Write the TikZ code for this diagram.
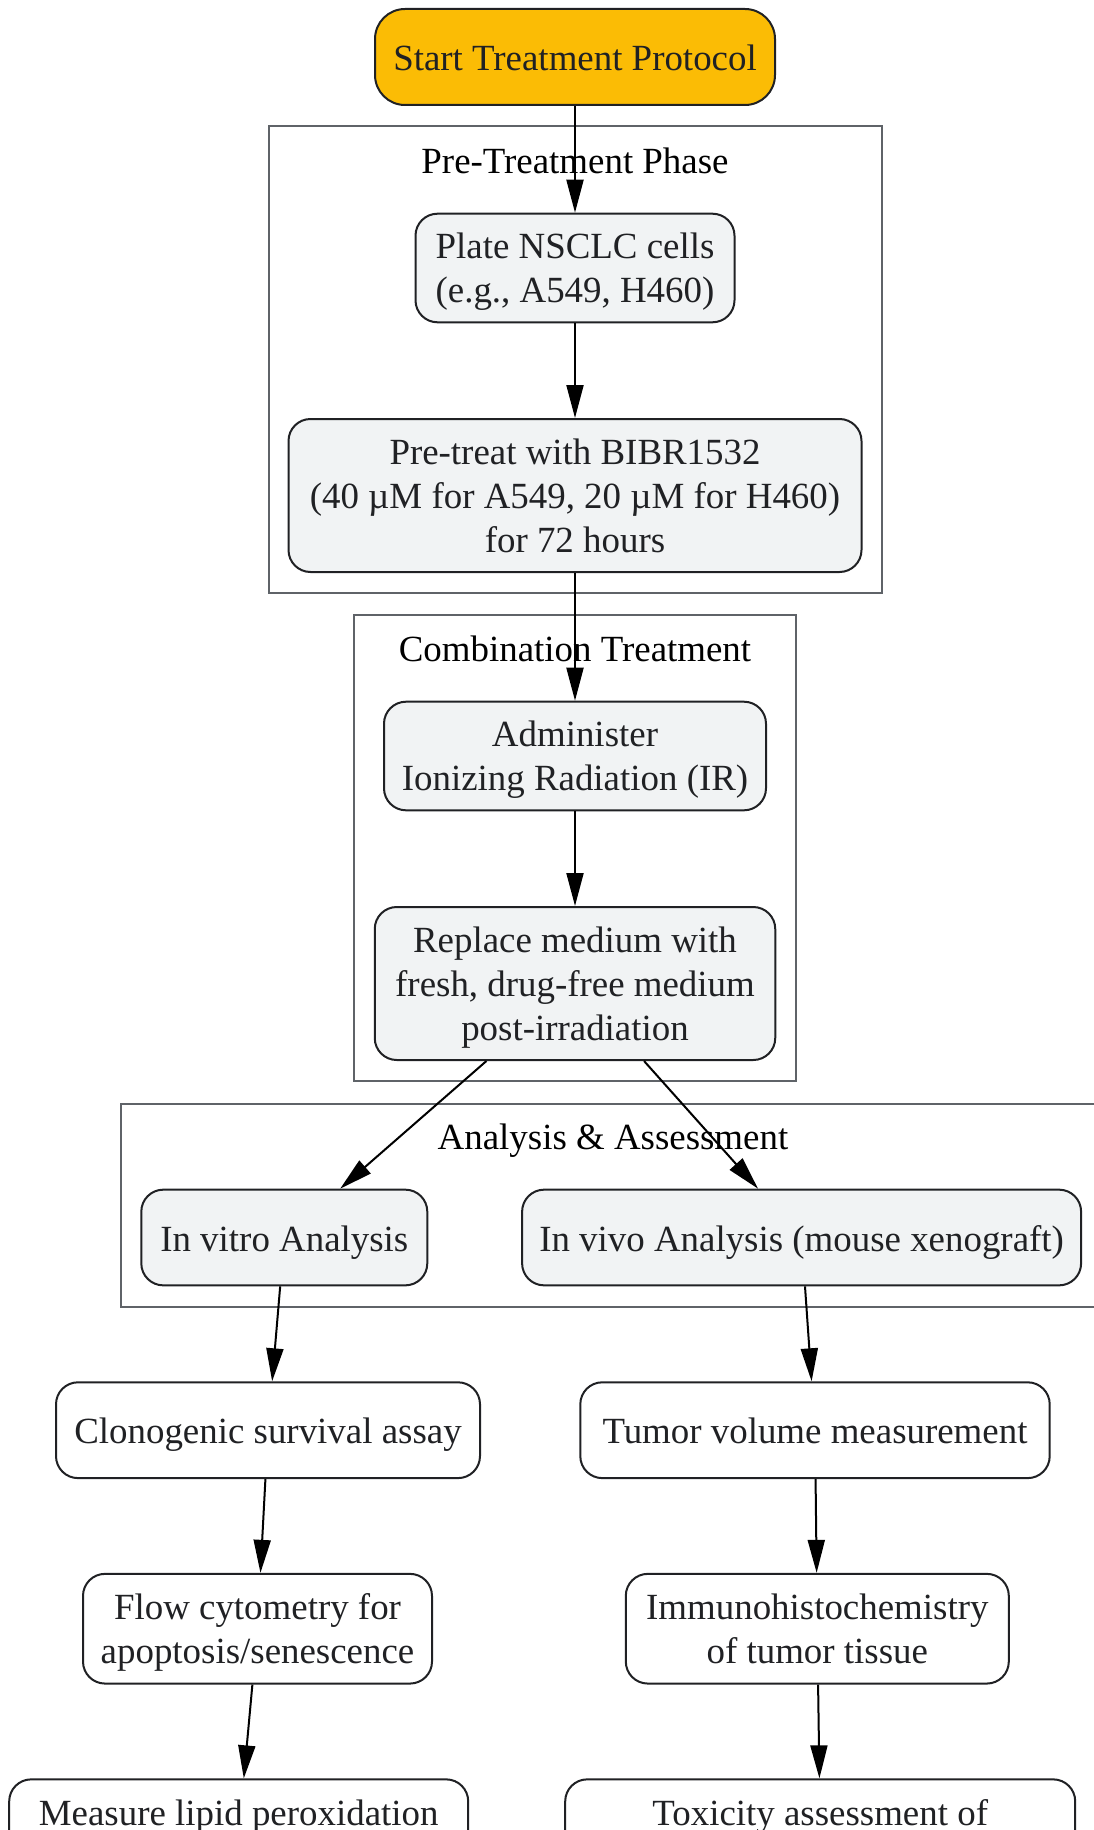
\documentclass[tikz,border=0pt]{standalone}
\usepackage{fontspec}
\setmainfont{Liberation Serif}
\usetikzlibrary{positioning, arrows.meta}

\definecolor{startfill}{HTML}{FBBC05}
\definecolor{stepfill}{HTML}{F1F3F4}
\definecolor{clustergray}{HTML}{5F6368}
\definecolor{inkdark}{HTML}{202124}

\tikzset{
  fontstrut/.style={execute at begin node={\rule{0pt}{35.4pt}},
    execute at end node={\rule[-8pt]{0pt}{0pt}}},
  multiline/.style={text depth=-1.4pt},
  stepbox/.style={draw=inkdark, line width=2pt, rounded corners=22pt, fill=stepfill,
    text=inkdark, align=center, inner sep=0pt, fontstrut},
  startbox/.style={stepbox, fill=startfill, rounded corners=30pt},
  plainbox/.style={stepbox, fill=white},
  cluster/.style={draw=clustergray, line width=2pt, inner sep=0pt},
  clusterlabel/.style={text=black, inner sep=0pt, fontstrut},
  arrowline/.style={line width=2pt, -{Triangle[length=33pt, width=17pt]}}
}

\begin{document}
\begin{tikzpicture}[x=1pt, y=-1pt, on grid, font=\fontsize{36.9pt}{43.8pt}\selectfont]
  \useasboundingbox (0,0) rectangle (1094,1830);

  \node[cluster, minimum width=613pt, minimum height=467pt] (pre) at (575,359.5) {};
  \node[cluster, minimum width=442.5pt, minimum height=466pt] (combo) at (575,848.3) {};
  \node[cluster, minimum width=983.2pt, minimum height=203pt] (analysis) at (613,1205) {};
  \node[clusterlabel] (prelabel) at (575,160) {Pre-Treatment Phase};
  \node[clusterlabel] (combolabel) at (575,648) {Combination Treatment};
  \node[clusterlabel] (analysislabel) at (613,1136) {Analysis \& Assessment};

  \node[startbox, minimum width=400pt, minimum height=96pt] (start) at (575,57) {Start Treatment Protocol};
  \node[stepbox, multiline, minimum width=319pt, minimum height=108.6pt] (plate) [below=211pt of start] {Plate NSCLC cells\\(e.g., A549, H460)};
  \node[stepbox, multiline, minimum width=573pt, minimum height=153pt] (pretreat) [below=227.5pt of plate] {Pre-treat with BIBR1532\\(40 µM for A549, 20 µM for H460)\\for 72 hours};
  \node[stepbox, multiline, minimum width=382pt, minimum height=108.6pt] (administer) [below=260.5pt of pretreat] {Administer\\Ionizing Radiation (IR)};
  \node[stepbox, multiline, minimum width=400.5pt, minimum height=153pt] (replace) [below=227.5pt of administer] {Replace medium with\\fresh, drug-free medium\\post-irradiation};
  \node[stepbox, minimum width=286pt, minimum height=95.7pt] (invitro) [below left=254pt and 290.7pt of replace] {In vitro Analysis};
  \node[stepbox, minimum width=559pt, minimum height=95.7pt] (invivo) [below right=254pt and 226.6pt of replace] {In vivo Analysis (mouse xenograft)};
  \node[plainbox, minimum width=424pt, minimum height=95.8pt] (clono) [below left=192.7pt and 16.3pt of invitro] {Clonogenic survival assay};
  \node[plainbox, minimum width=469.4pt, minimum height=95.8pt] (tumor) [below right=192.7pt and 13.4pt of invivo] {Tumor volume measurement};
  \node[plainbox, multiline, minimum width=349pt, minimum height=109.7pt] (flowcyt) [below left=198.5pt and 10.5pt of clono] {Flow cytometry for\\apoptosis/senescence};
  \node[plainbox, multiline, minimum width=383pt, minimum height=109.7pt] (ihc) [below right=198.5pt and 2.3pt of tumor] {Immunohistochemistry\\of tumor tissue};
  \node[plainbox, multiline, minimum width=459pt, minimum height=109.7pt] (lipid) [below left=205.5pt and 18.8pt of flowcyt] {Measure lipid peroxidation\\\mbox{}};
  \node[plainbox, multiline, minimum width=510pt, minimum height=109.7pt] (toxicity) [below right=205.5pt and 2.9pt of ihc] {Toxicity assessment of\\\mbox{}};

  \path[arrowline]
  (start) edge (plate)
  (plate) edge (pretreat)
  (pretreat) edge (administer)
  (administer) edge (replace)
  (replace) edge (invitro)
    (replace) edge (invivo)
  (invitro) edge (clono)
  (invivo) edge (tumor)
  (clono) edge (flowcyt)
  (tumor) edge (ihc)
  (flowcyt) edge (lipid)
  (ihc) edge (toxicity);
\end{tikzpicture}
\end{document}
